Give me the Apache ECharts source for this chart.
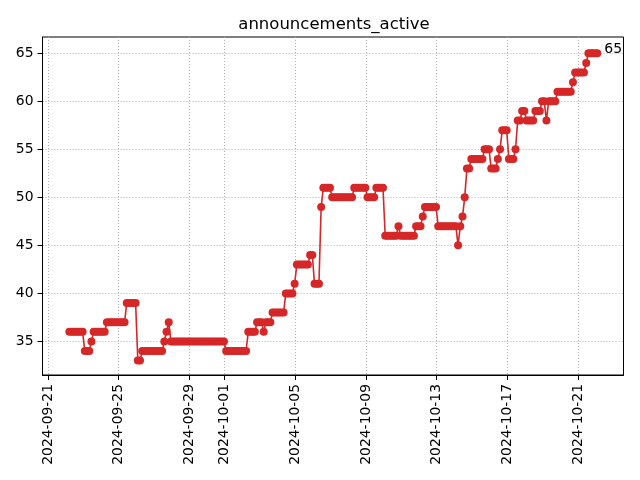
<!DOCTYPE html>
<html>
<head>
<meta charset="utf-8">
<script src="https://cdn.jsdelivr.net/npm/echarts@6/dist/echarts.min.js"></script>
<style>html,body{margin:0;padding:0;background:#fff}#c{width:640px;height:480px}</style>
</head>
<body>
<div id="c"></div>
<script>
// ---- data ----
const chartTitle = 'announcements_active';
const seriesStart = '2024-09-22T05:00:00Z';   // first sample
const stepHours = 3;                            // sampling step
const activeCounts = [
  36,36,36,36,36,36,36,34,34,34,
  35,36,36,36,36,36,36,37,37,37,
  37,37,37,37,37,37,39,39,39,39,
  39,33,33,34,34,34,34,34,34,34,
  34,34,34,35,36,37,35,35,35,35,
  35,35,35,35,35,35,35,35,35,35,
  35,35,35,35,35,35,35,35,35,35,
  35,34,34,34,34,34,34,34,34,34,
  34,36,36,36,36,37,37,37,36,37,
  37,37,38,38,38,38,38,38,40,40,
  40,40,41,43,43,43,43,43,43,44,
  44,41,41,41,49,51,51,51,51,50,
  50,50,50,50,50,50,50,50,50,51,
  51,51,51,51,51,50,50,50,50,51,
  51,51,51,46,46,46,46,46,46,47,
  46,46,46,46,46,46,46,47,47,47,
  48,49,49,49,49,49,49,47,47,47,
  47,47,47,47,47,47,45,47,48,50,
  53,53,54,54,54,54,54,54,55,55,
  55,53,53,53,54,55,57,57,57,54,
  54,54,55,58,58,59,59,58,58,58,
  58,59,59,59,60,60,58,60,60,60,
  60,61,61,61,61,61,61,61,62,63,
  63,63,63,63,64,65,65,65,65,65
];
const xTickDates = ['2024-09-21','2024-09-25','2024-09-29','2024-10-01','2024-10-05','2024-10-09','2024-10-13','2024-10-17','2024-10-21'];
const yTicks = [35,40,45,50,55,60,65];

// ---- build ----
const t0 = Date.parse(seriesStart);
const H = 3600 * 1000;
const data = activeCounts.map((v, i) => {
  const item = { value: [t0 + i * stepHours * H, v] };
  if (i === activeCounts.length - 1) {
    item.label = { show: true, position: 'right', offset: [-2, -4], formatter: String(v),
      color: '#000', fontSize: 14, fontFamily: 'DejaVu Sans' };
  }
  return item;
});
const xTicks = xTickDates.map(d => Date.parse(d + 'T00:00:00Z'));
const pad = n => (n < 10 ? '0' : '') + n;
const fmtDate = v => { const d = new Date(v); return d.getUTCFullYear() + '-' + pad(d.getUTCMonth() + 1) + '-' + pad(d.getUTCDate()); };

const xMin = Date.parse('2024-09-21T00:00:00Z') - 7.47 * H;
const xMax = Date.parse('2024-09-21T00:00:00Z') + 32.57 * 24 * H;

const chart = echarts.init(document.getElementById('c'), null, { renderer: 'canvas' });
chart.setOption({
  animation: false,
  backgroundColor: '#fff',
  textStyle: { fontFamily: 'DejaVu Sans' },
  title: {
    text: chartTitle, left: 329, top: 11, textAlign: 'center',
    textStyle: { fontFamily: 'DejaVu Sans', fontSize: 16.5, fontWeight: 'normal', color: '#000' }
  },
  grid: { left: 42.5, right: 16.5, top: 37, bottom: 105, show: true, borderColor: '#000', borderWidth: 1, containLabel: false },
  xAxis: {
    type: 'value', min: xMin, max: xMax, scale: true,
    axisLine: { show: true, onZero: false, lineStyle: { color: '#000', width: 1 } },
    axisTick: { show: true, length: 5, customValues: xTicks, lineStyle: { color: '#000' } },
    axisLabel: { customValues: xTicks, rotate: 90, margin: 9, color: '#000', fontSize: 13.9,
      fontFamily: 'DejaVu Sans', formatter: v => fmtDate(v), hideOverlap: false },
    splitLine: { show: true, lineStyle: { color: '#b0b0b0', width: 1, type: [1, 2] } }
  },
  yAxis: {
    type: 'value', min: 31.5, max: 66.7,
    axisLine: { show: true, onZero: false, lineStyle: { color: '#000', width: 1 } },
    axisTick: { show: true, length: 5, customValues: yTicks, lineStyle: { color: '#000' } },
    axisLabel: { customValues: yTicks, margin: 9, color: '#000', fontSize: 13.9, fontFamily: 'DejaVu Sans' },
    splitLine: { show: true, lineStyle: { color: '#b0b0b0', width: 1, type: [1, 2] } }
  },
  series: [{
    type: 'line', data: data,
    symbol: 'circle', symbolSize: 8, showAllSymbol: true,
    itemStyle: { color: '#d62728' },
    lineStyle: { color: '#d62728', width: 1.6 },
    emphasis: { disabled: true }
  }]
});
</script>
</body>
</html>
